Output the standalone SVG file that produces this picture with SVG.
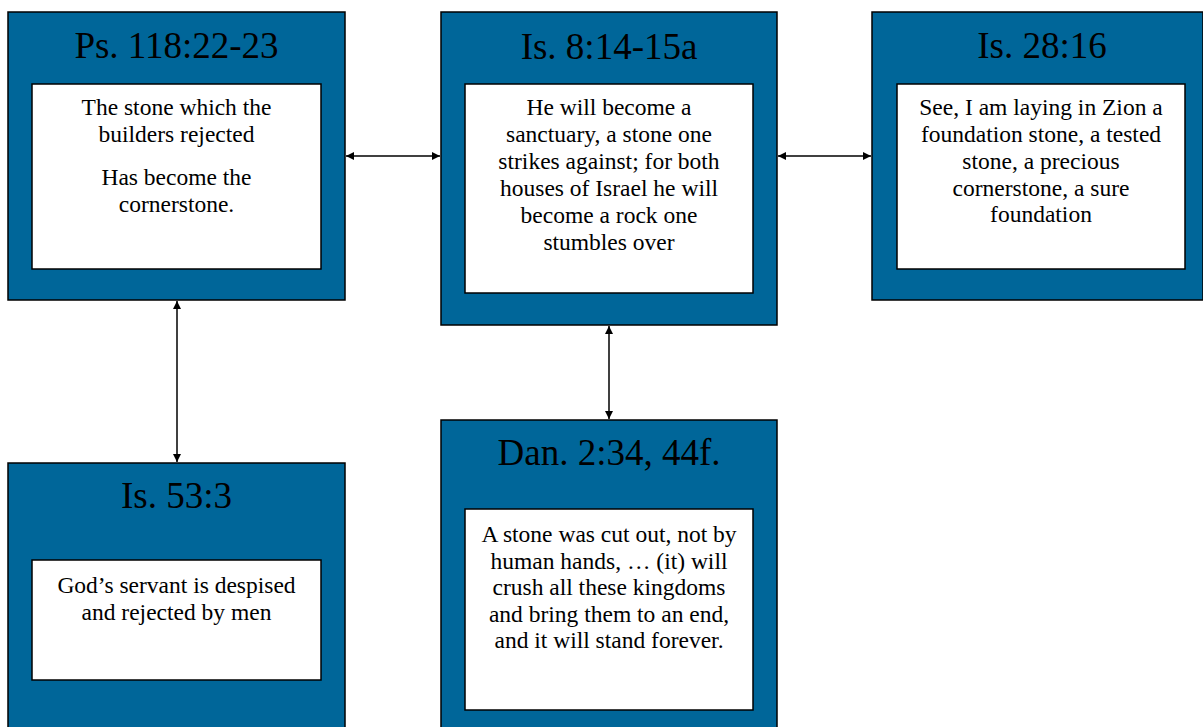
<svg xmlns="http://www.w3.org/2000/svg" width="1203" height="727" viewBox="0 0 1203 727">
<style>
.outer{fill:#006699;stroke:#000;stroke-width:1.5}
.inner{fill:#fff;stroke:#000;stroke-width:1.5}
.title{font-family:"Liberation Serif","Times New Roman",serif;font-size:37px;fill:#000;text-anchor:middle}
.body{font-family:"Liberation Serif","Times New Roman",serif;font-size:23.5px;fill:#000;text-anchor:middle}
.conn{stroke:#000;stroke-width:1.5;fill:none;marker-start:url(#ah);marker-end:url(#ah)}
</style>
<defs>
<marker id="ah" viewBox="0 0 10 10" refX="10" refY="5" markerWidth="9" markerHeight="8" markerUnits="userSpaceOnUse" orient="auto-start-reverse">
<path d="M0,0 L10,5 L0,10 Z" fill="#000"/>
</marker>
</defs>
<rect width="1203" height="727" fill="#fff"/>
<g id="connectors">
<line class="conn" x1="346" y1="156" x2="440" y2="156"/>
<line class="conn" x1="778" y1="156" x2="871" y2="156"/>
<line class="conn" x1="177" y1="301" x2="177" y2="462"/>
<line class="conn" x1="609" y1="326" x2="609" y2="419"/>
</g>
<g id="ps118">
<rect class="outer" x="8" y="12" width="337" height="288"/>
<text class="title" x="176.5" y="58">Ps. 118:22-23</text>
<rect class="inner" x="32" y="84" width="289" height="185"/>
<text class="body" x="176.5" y="115">The stone which the</text>
<text class="body" x="176.5" y="142">builders rejected</text>
<text class="body" x="176.5" y="185">Has become the</text>
<text class="body" x="176.5" y="212">cornerstone.</text>
</g>
<g id="is8">
<rect class="outer" x="441" y="12" width="336" height="313"/>
<text class="title" x="609" y="59">Is. 8:14-15a</text>
<rect class="inner" x="465" y="84" width="288" height="209"/>
<text class="body" x="609" y="115">He will become a</text>
<text class="body" x="609" y="142">sanctuary, a stone one</text>
<text class="body" x="609" y="169">strikes against; for both</text>
<text class="body" x="609" y="196">houses of Israel he will</text>
<text class="body" x="609" y="223">become a rock one</text>
<text class="body" x="609" y="250">stumbles over</text>
</g>
<g id="is28">
<rect class="outer" x="872" y="12" width="331" height="288"/>
<text class="title" x="1042" y="58">Is. 28:16</text>
<rect class="inner" x="897" y="84" width="288" height="185"/>
<text class="body" x="1041" y="115">See, I am laying in Zion a</text>
<text class="body" x="1041" y="142">foundation stone, a tested</text>
<text class="body" x="1041" y="169">stone, a precious</text>
<text class="body" x="1041" y="196">cornerstone, a sure</text>
<text class="body" x="1041" y="222">foundation</text>
</g>
<g id="is53">
<rect class="outer" x="8" y="463" width="337" height="280"/>
<text class="title" x="176.5" y="508">Is. 53:3</text>
<rect class="inner" x="32" y="560" width="289" height="120"/>
<text class="body" x="176.5" y="593">God’s servant is despised</text>
<text class="body" x="176.5" y="620">and rejected by men</text>
</g>
<g id="dan2">
<rect class="outer" x="441" y="420" width="336" height="320"/>
<text class="title" x="609" y="465">Dan. 2:34, 44f.</text>
<rect class="inner" x="465" y="509" width="288" height="201"/>
<text class="body" x="609" y="542">A stone was cut out, not by</text>
<text class="body" x="609" y="569">human hands, … (it) will</text>
<text class="body" x="609" y="595">crush all these kingdoms</text>
<text class="body" x="609" y="622">and bring them to an end,</text>
<text class="body" x="609" y="648">and it will stand forever.</text>
</g>
</svg>
